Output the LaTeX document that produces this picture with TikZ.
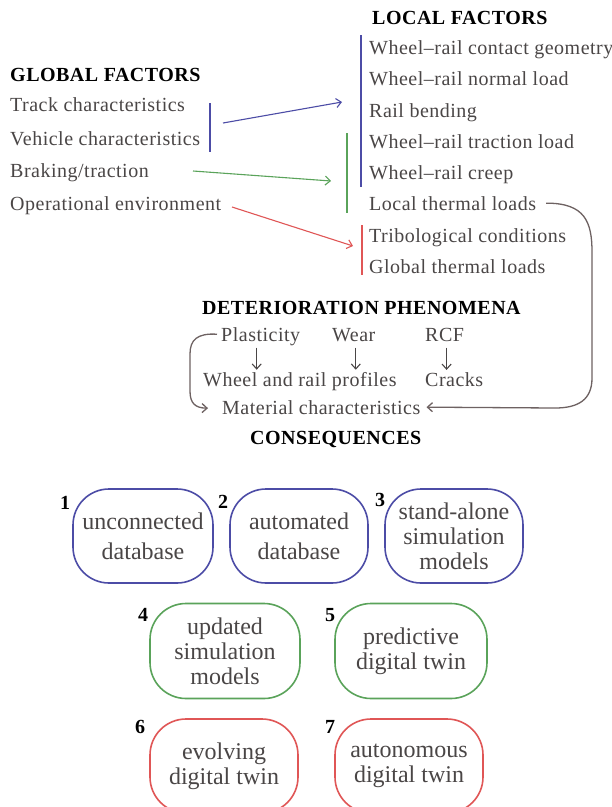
\documentclass[tikz,border=0pt]{standalone}
\usepackage{fontspec}
\setmainfont{Liberation Serif}
\newfontfamily\spacedserif[LetterSpace=2.5]{Liberation Serif}
\usetikzlibrary{arrows.meta}
\definecolor{txt}{HTML}{4A4646}
\definecolor{fblue}{HTML}{4C4CA6}
\definecolor{fgreen}{HTML}{5AA35A}
\definecolor{fred}{HTML}{E05656}
\definecolor{loopc}{HTML}{6E6262}
\begin{document}
\begin{tikzpicture}[x=1pt,y=-1pt,
  item/.style={anchor=base west, inner sep=0pt, text=txt, font=\spacedserif\fontsize{20}{24}\selectfont},
  head/.style={anchor=base west, inner sep=0pt, text=black, font=\spacedserif\fontsize{20}{24}\selectfont\bfseries},
  bar/.style={line width=2.6pt},
  link/.style={line width=1.1pt, -{Straight Barb[length=5pt,width=9pt]}},
  loopline/.style={line width=1.3pt, draw=loopc, -{Straight Barb[length=5pt,width=9pt]}},
  downarrow/.style={line width=1.1pt, draw=txt, -{Straight Barb[length=5pt,width=9pt]}},
  box/.style={draw, line width=1.6pt, rounded corners=36pt, align=center, text=txt, inner sep=0pt},
  num/.style={font=\fontsize{20}{24}\selectfont\bfseries, text=black, inner sep=0pt}]
\useasboundingbox (0,0) rectangle (612,807);
\fill[white] (0,0) rectangle (612,807);

% ---- global factors ----
\node[head] (gh) at (10,81) {GLOBAL FACTORS};
\node[item] (tc) at (10,111) {Track characteristics};
\node[item] (vc) at (10,145) {Vehicle characteristics};
\node[item] (bt) at (10,177) {Braking/traction};
\node[item] (oe) at (10,210) {Operational environment};

% ---- local factors ----
\node[head] (lh) at (372,24) {LOCAL FACTORS};
\node[item] (l1) at (369,54) {Wheel–rail contact geometry};
\node[item] (l2) at (369,85) {Wheel–rail normal load};
\node[item] (l3) at (369,117) {Rail bending};
\node[item] (l4) at (369,148) {Wheel–rail traction load};
\node[item] (l5) at (369,179) {Wheel–rail creep};
\node[item] (l6) at (369,210) {Local thermal loads};
\node[item] (l7) at (369,242) {Tribological conditions};
\node[item] (l8) at (369,273) {Global thermal loads};

% ---- grouping bars ----
\coordinate (gbt) at (210,103); \coordinate (gbb) at (210,152);
\coordinate (lbt) at (361,35);  \coordinate (lbb) at (361,187);
\coordinate (lgt) at (347,133); \coordinate (lgb) at (347,213);
\coordinate (lrt) at (362,225); \coordinate (lrb) at (362,275);
\draw[bar, fblue] (gbt) -- (gbb);
\draw[bar, fblue] (lbt) -- (lbb);
\draw[bar, fgreen] (lgt) -- (lgb);
\draw[bar, fred] (lrt) -- (lrb);

% ---- links from global to local factors ----
\coordinate (bout) at (223,123); \coordinate (bin) at (342,102);
\coordinate (gout) at (193,171); \coordinate (gin) at (331,181);
\coordinate (rout) at (232,207); \coordinate (rin) at (353,246);
\draw[link, fblue] (bout) -- (bin);
\draw[link, fgreen] (gout) -- (gin);
\draw[link, fred] (rout) -- (rin);

% ---- deterioration phenomena ----
\node[head] (dh) at (202,314) {DETERIORATION PHENOMENA};
\node[item] (pl) at (221,341) {Plasticity};
\node[item] (we) at (332,341) {Wear};
\node[item] (rc) at (425,341) {RCF};
\node[item] (wr) at (203,386) {Wheel and rail profiles};
\node[item] (cr) at (425,386) {Cracks};
\node[item] (mc) at (222,414) {Material characteristics};
\node[head] (ch) at (250,444) {CONSEQUENCES};

\draw[downarrow, shorten <=2pt, shorten >=2pt] ([xshift=-4pt]pl.south) -- ([xshift=-4pt]pl.south |- wr.north);
\draw[downarrow, shorten <=2pt, shorten >=2pt] ([xshift=2pt]we.south |- pl.south) -- ([xshift=2pt]we.south |- wr.north);
\draw[downarrow, shorten <=2pt, shorten >=2pt] ([xshift=2pt]rc.south |- pl.south) -- ([xshift=2pt]rc.south |- cr.north);

% feedback loops into material characteristics
\draw[loopline] ([xshift=10pt]l6.east) .. controls (585,203) and (592,222) .. (592,252)
  -- (592,378) .. controls (592,400) and (578,408) .. (555,408) -- ([xshift=6pt]mc.east);
\draw[loopline] ([xshift=-4pt,yshift=2pt]pl.west) .. controls (197,333) and (190,340) .. (190,354)
  -- (190,391) .. controls (190,403) and (195,408) .. ([xshift=-14pt,yshift=-1pt]mc.west);

% ---- consequences: maturity levels ----
\node[box, draw=fblue, minimum width=140pt, minimum height=94pt, font=\fontsize{24}{30}\selectfont] (c1) at (143,536) {unconnected\\database};
\node[box, draw=fblue, minimum width=138pt, minimum height=94pt, font=\fontsize{24}{30}\selectfont] (c2) at (299,536) {automated\\database};
\node[box, draw=fblue, minimum width=138pt, minimum height=94pt, font=\fontsize{24}{25}\selectfont] (c3) at (454,536) {stand-alone\\simulation\\models};
\node[box, draw=fgreen, minimum width=150pt, minimum height=95pt, font=\fontsize{24}{25}\selectfont] (c4) at (225,651) {updated\\simulation\\models};
\node[box, draw=fgreen, minimum width=152pt, minimum height=95pt, font=\fontsize{24}{25}\selectfont] (c5) at (411,651) {predictive\\digital twin};
\node[box, draw=fred, minimum width=148pt, minimum height=94pt, font=\fontsize{24}{25}\selectfont] (c6) at (224,766) {evolving\\digital twin};
\node[box, draw=fred, minimum width=148pt, minimum height=94pt, font=\fontsize{24}{25}\selectfont] (c7) at (409,766) {autonomous\\digital twin};

\node[num] (n1) at (65,503) {1};
\node[num] (n2) at (223,502) {2};
\node[num] (n3) at (380,500) {3};
\node[num] (n4) at (143,615) {4};
\node[num] (n5) at (330,615) {5};
\node[num] (n6) at (140,727) {6};
\node[num] (n7) at (330,727) {7};
\end{tikzpicture}
\end{document}
